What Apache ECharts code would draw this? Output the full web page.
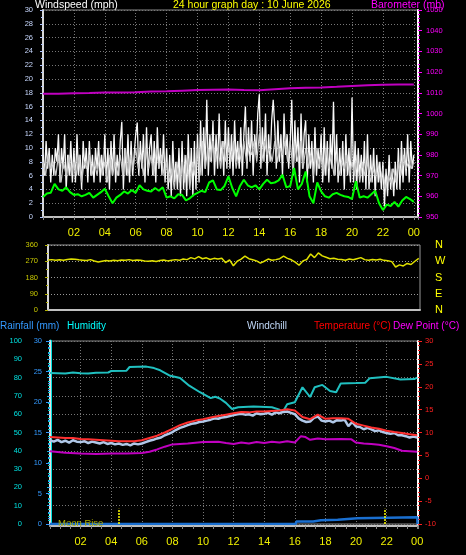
<!DOCTYPE html>
<html><head><meta charset="utf-8">
<script src="https://cdn.jsdelivr.net/npm/echarts@6/dist/echarts.min.js"></script>
<style>html,body{margin:0;padding:0;background:#000;}#c{width:466px;height:555px;}</style>
</head><body><div id="c"></div>
<script>
// ---- data ----
// wind gust (mph), every 6 minutes from 00:00
const gustValues = [
 9,6,11,7,10,5,9,6,10,8,
 12,5,10,7,12,4,9,6,11,5,
 10,5,12,6,9,4,11,7,10,5,
 11,6,9,5,10,7,11,5,9,6,
 12,5,10,4,11,6,12,5,9,6,
 11,13.8,4,10,6,12,5,11,6,9,
 12,13.7,6,11,7,12,5,13,6,10,
 12,6,11,5,13,7,10,6,12,5,
 10,4,9,3,11,5,8,4,10,3,
 11,4,9,3,12,5,10,3,11,4,
 12,5,14,6,13,7,17,6,12,8,
 14,6,12,7,15,8,11,6,14,7,
 13,7,12,6,14,8,11,7,13,6,
 12,16,7,13,8,14,6,12,9,15,
 17.8,7,13,8,15,6,12,8,14,17,
 13,7,14,8,12,6,15,9,12,7,
 11,17,6,14,8,13,5,15,7,12,
 14,5,12,7,11,5,13,6,10,7,
 12,5,13,6,11,5,12,7,16.7,6,
 12,5,10,6,11,4,12,6,10,5,
 17.3,5,11,4,10,6,9,5,11,4,
 12,4,9,5,10,3,9,5,8,4,
 8,1.5,7,3,9,4,7,3,8,4,
 10,4,11,5,10,6,12,5,11,7,
 9];
// wind speed (mph), every 10 minutes
const speedValues = [
 8,6,9,7,8,6, 9,5,8,6,9,6, 8,6,9,5,8,7, 9,6,8,6,9,6,
 8,5,9,6,8,6, 9,6,10,6,9,7, 10,7,9,6,10,7, 9,6,10,7,9,6,
 8,5,7,4,8,5, 8,5,9,4,8,6, 10,6,11,7,10,8, 11,8,10,7,11,8,
 10,8,11,7,10,8, 11,8,10,9,11,8, 12,8,11,9,10,8, 11,8,10,9,11,8,
 11,7,10,8,11,7, 10,7,9,6,10,7, 9,6,10,7,9,6, 9,6,8,7,9,6,
 8,6,9,5,8,6, 8,5,7,6,8,5, 7,4,6,5,7,5, 8,6,9,7,8,7,
 8];
// average wind speed (mph), every 15 minutes
const avgValues = [
 2.9,3.4,3.5,4.8, 4.0,3.8,4.3,3.6, 3.2,3.3,3.0,3.2, 3.5,2.8,3.2,3.6,
 4.1,3.0,2.0,2.8, 3.2,3.7,3.4,3.9, 3.5,4.6,4.0,3.8, 3.7,4.2,3.8,4.3,
 2.8,3.0,2.7,3.3, 3.2,2.4,2.7,3.2, 3.5,3.8,3.6,5.0, 5.3,4.0,3.9,4.5,
 5.9,4.2,3.0,4.5, 5.4,4.6,4.3,4.6, 4.0,4.8,5.4,4.9, 5.0,5.3,6.1,4.3,
 4.5,7.1,4.0,4.8, 6.6,3.0,2.0,5.0, 3.7,3.0,2.8,3.3, 3.5,3.2,3.0,2.9,
 2.6,5.2,2.8,3.0, 2.8,3.3,3.8,2.0, 1.0,1.8,1.6,2.2, 1.5,2.4,2.9,2.6,
 2.2];
// barometer (mb), hourly
const baroValues = [1009.5,1009.6,1009.8,1009.9,1010.1,1010.2,1010.3,1010.6,1010.7,1011.0,1011.3,1011.5,
 1011.6,1011.3,1011.2,1011.7,1012.2,1012.4,1012.6,1012.9,1013.3,1013.6,1013.9,1014.0,1014.0];
// wind direction (deg), every 15 minutes
const dirValues = [
 277,279,275,278, 276,280,283,281, 278,276,274,279, 271,266,270,274,
 272,276,273,277, 275,279,274,277, 275,271,270,273, 269,274,277,272,
 276,279,275,282, 279,290,283,296, 284,289,280,286, 282,287,262,278,
 245,270,282,298, 284,278,272,260, 270,282,276,279, 284,298,286,278,
 265,248,272,280, 310,290,316,300, 292,284,287,281, 280,276,282,278,
 284,290,279,276, 280,277,281,275, 273,268,238,250, 244,258,252,270,
 286];
// humidity (%)
const humTimes  = [0,1,1.5,2,2.5,3,3.8,4.0,5.0,5.2,6.3,6.8,7.2,7.8,8.5,9.1,9.8,10.5,10.8,11.1,11.5,11.9,12.3,13.3,14.5,15.0,15.2,15.5,16.0,16.5,17.0,17.3,17.8,18.3,18.7,19.0,20.0,20.6,20.9,22.0,22.9,23.8,24.0];
const humValues = [82.5,82.3,82.8,82.4,82.2,82.6,82.8,83.6,83.8,85.8,86.0,85.2,84.0,81.2,79.8,75.6,72.0,68.8,69.5,68.6,66.2,62.8,63.8,64.2,63.8,62.5,61.0,65.4,66.5,74.7,69.4,74.7,76.0,72.7,72.0,76.8,77.0,77.2,79.7,80.4,79.0,79.2,80.0];
// temperature (°C), every 30 minutes
const tempValues = [9.0,8.9,8.8,8.8,8.6,8.5,8.4,8.3,8.2,8.1,8.1,8.1,8.3,8.8,9.3,10.0,10.8,11.6,12.2,12.6,12.9,13.3,13.6,13.9,
 14.2,14.5,14.4,14.6,14.6,14.7,14.8,15.1,14.8,13.4,12.9,13.9,13.0,13.1,13.1,13.0,11.9,11.5,11.1,10.8,10.4,10.1,9.9,9.6,9.4];
// windchill (°C), every 15 minutes
const chillValues = [
 8.3,8.0,8.4,7.9, 8.2,7.8,8.3,8.0, 7.9,8.1,7.7,8.0, 7.8,7.6,7.9,7.5,
 7.7,7.4,7.6,7.3, 7.5,7.2,7.6,7.4, 7.6,7.9,8.2,8.4, 8.7,8.9,9.4,9.7,
 10.1,10.6,11.0,11.3, 11.6,11.9,12.0,12.3, 12.4,12.6,12.8,13.1, 13.0,13.3,13.4,13.6,
 13.8,14.0,14.1,13.9, 14.0,13.7,14.2,14.0, 14.1,14.3,13.9,14.4, 14.2,14.5,14.6,14.3,
 14.0,13.1,12.6,12.3, 12.4,13.2,13.5,12.6, 12.4,12.6,12.2,12.7, 12.6,12.8,11.4,12.3,
 11.3,11.2,10.7,11.0, 10.7,10.3,10.5,10.1, 9.9,9.7,9.9,9.4, 9.4,9.2,8.9,9.1,
 8.9];
// dew point (°C)
const dewTimes  = [0,1,2,3,4,5,6,6.5,7,7.5,8,9,10,11,11.5,12,12.5,13,13.5,14,14.5,15,15.5,16,16.4,16.7,17,17.5,18,19,19.7,20,20.5,21,21.5,22,22.5,23,23.5,24];
const dewValues = [5.9,5.6,5.4,5.3,5.4,5.4,5.5,5.8,6.3,6.9,7.4,7.6,7.9,8.0,7.7,7.5,7.8,7.6,7.9,7.7,8.0,7.8,8.1,7.8,9.2,9.0,8.4,8.7,8.5,8.6,8.5,7.8,7.6,7.5,7.3,7.0,6.6,6.0,5.9,5.8];
// rainfall (mm)
const rainTimes  = [0,16.05,16.1,17.2,17.25,17.7,17.75,18.8,18.85,20.1,20.15,24.0,24.02];
const rainValues = [0,0,0.4,0.4,0.6,0.6,0.7,0.7,0.95,0.95,1.1,1.1,0];
// moon events (hour)
const moonLines = [4.48, 21.9];
const dirLabels = {0:'N',90:'E',180:'S',270:'W',360:'N'};

// ---- chart ----
const F = '"Liberation Sans", Arial, sans-serif';
const every = (arr, step) => arr.map((v, i) => [i * step, v]);
const pairs = (t, v) => t.map((x, i) => [x, v[i]]);
const hourFmt = v => { if (v < 0.01 || v > 24.01) return ''; const h = Math.round(v) % 24; return (h < 10 ? '0' : '') + h; };
const plain = v => String(v);
const dotted = c => ({ show: true, lineStyle: { color: c, type: [1, 2], width: 1 } });

const chart = echarts.init(document.getElementById('c'), null, { renderer: 'canvas' });
const smallLbl = (c, m) => ({ color: c, fontSize: 7.5, fontFamily: F, margin: m, formatter: plain });

chart.setOption({
  backgroundColor: '#000',
  animation: false,
  grid: [
    { left: 43, top: 10, width: 375, height: 207, show: true, borderColor: '#888', borderWidth: 1 },
    { left: 48, top: 245, width: 372, height: 65, show: true, borderColor: '#999', borderWidth: 1 },
    { left: 50, top: 341, width: 368, height: 183, show: true, borderColor: '#888', borderWidth: 1 }
  ],
  xAxis: [
    { gridIndex: 0, type: 'value', min: 0, max: 24.27, interval: 2,
      axisLine: { show: true, onZero: false, lineStyle: { color: '#c0c0c0', width: 2 } },
      axisTick: { show: true, length: 3, lineStyle: { color: '#888' } },
      minorTick: { show: true, splitNumber: 3, length: 3, lineStyle: { color: '#888' } },
      axisLabel: { color: '#f0f000', fontSize: 11, fontFamily: F, margin: 10, formatter: hourFmt },
      splitLine: dotted('#777') },
    { gridIndex: 1, type: 'value', min: 0, max: 24.08, interval: 2,
      axisLine: { show: true, onZero: false, lineStyle: { color: '#c0c0c0', width: 2 } },
      axisTick: { show: false }, axisLabel: { show: false }, splitLine: { show: false } },
    { gridIndex: 2, type: 'value', min: 0, max: 24.05, interval: 2, offset: 2,
      axisLine: { show: true, onZero: false, lineStyle: { color: '#c0c0c0', width: 2 } },
      axisTick: { show: true, length: 3, lineStyle: { color: '#888' } },
      minorTick: { show: true, splitNumber: 3, length: 3, lineStyle: { color: '#888' } },
      axisLabel: { color: '#f0f000', fontSize: 11, fontFamily: F, margin: 10, formatter: hourFmt },
      splitLine: dotted('#777') }
  ],
  yAxis: [
    { gridIndex: 0, type: 'value', position: 'left', min: 0, max: 30, interval: 2,
      axisLine: { show: true, lineStyle: { color: '#d8d8d8', width: 2 } },
      axisTick: { show: true, length: 3, lineStyle: { color: '#b0c4ff' } },
      minorTick: { show: true, splitNumber: 2, length: 2, lineStyle: { color: '#b0c4ff' } },
      axisLabel: smallLbl('#c8d8ff', 10), splitLine: dotted('#777') },
    { gridIndex: 0, type: 'value', position: 'right', min: 950, max: 1050, interval: 10,
      axisLine: { show: true, lineStyle: { color: '#ffffff', width: 2 } },
      axisTick: { show: true, length: 4, lineStyle: { color: '#ff00ff' } },
      minorTick: { show: true, splitNumber: 5, length: 2, lineStyle: { color: '#ff00ff' } },
      axisLabel: smallLbl('#ff00ff', 8), splitLine: { show: false } },
    { gridIndex: 1, type: 'value', position: 'left', min: 0, max: 360, interval: 90,
      axisLine: { show: true, lineStyle: { color: '#d8d8d8', width: 2 } },
      axisTick: { show: true, length: 3, lineStyle: { color: '#b0b000' } },
      minorTick: { show: true, splitNumber: 2, length: 2, lineStyle: { color: '#b0b000' } },
      axisLabel: smallLbl('#c8c800', 10), splitLine: dotted('#999') },
    { gridIndex: 1, type: 'value', position: 'right', min: 0, max: 360, interval: 90,
      axisLine: { show: false }, axisTick: { show: false }, splitLine: { show: false },
      axisLabel: { color: '#ffff00', fontSize: 11, fontFamily: F, margin: 15, formatter: v => dirLabels[v] || '' } },
    { gridIndex: 2, type: 'value', position: 'left', offset: 20, min: 0, max: 100, interval: 10,
      axisLine: { show: true, lineStyle: { color: '#00e0e0', width: 3 } },
      axisTick: { show: true, length: 3, lineStyle: { color: '#00c8c8' } },
      minorTick: { show: true, splitNumber: 5, length: 2, lineStyle: { color: '#00c8c8' } },
      axisLabel: smallLbl('#00e0e0', 8), splitLine: dotted('#777') },
    { gridIndex: 2, type: 'value', position: 'left', min: 0, max: 30, interval: 5,
      axisLine: { show: true, lineStyle: { color: '#e0e0e0', width: 2 } },
      axisTick: { show: true, length: 4, lineStyle: { color: '#3399ff' } },
      minorTick: { show: true, splitNumber: 5, length: 2, lineStyle: { color: '#3399ff' } },
      axisLabel: smallLbl('#3399ff', 8), splitLine: { show: false } },
    { gridIndex: 2, type: 'value', position: 'right', min: -10, max: 30, interval: 5,
      axisLine: { show: true, lineStyle: { color: '#ffffff', width: 2 } },
      axisTick: { show: true, length: 4, lineStyle: { color: '#ff2020' } },
      minorTick: { show: true, splitNumber: 5, length: 2, lineStyle: { color: '#ff2020' } },
      axisLabel: smallLbl('#ff2020', 7), splitLine: { show: false } }
  ],
  series: [
    { type: 'line', xAxisIndex: 0, yAxisIndex: 0, data: every(gustValues, 0.1), symbol: 'none',
      lineStyle: { color: '#f8f8f8', width: 1.3 } },
    { type: 'line', xAxisIndex: 0, yAxisIndex: 0, data: every(speedValues, 1 / 6), symbol: 'none',
      lineStyle: { color: '#c8c8c8', width: 1.2 } },
    { type: 'line', xAxisIndex: 0, yAxisIndex: 0, data: every(avgValues, 0.25), symbol: 'none',
      lineStyle: { color: '#00ff00', width: 2 } },
    { type: 'line', xAxisIndex: 0, yAxisIndex: 1, data: every(baroValues, 1), symbol: 'none',
      lineStyle: { color: '#c000c0', width: 2 } },
    { type: 'line', xAxisIndex: 1, yAxisIndex: 2, data: every(dirValues, 0.25), symbol: 'none',
      lineStyle: { color: '#e0e000', width: 1.5 } },
    { type: 'line', xAxisIndex: 2, yAxisIndex: 4, data: pairs(humTimes, humValues), symbol: 'none',
      lineStyle: { color: '#20c0c0', width: 2 } },
    { type: 'line', xAxisIndex: 2, yAxisIndex: 6, data: every(chillValues, 0.25), symbol: 'none',
      lineStyle: { color: '#b0c8e8', width: 2.5 } },
    { type: 'line', xAxisIndex: 2, yAxisIndex: 6, data: every(tempValues, 0.5), symbol: 'none',
      lineStyle: { color: '#ff3030', width: 2 } },
    { type: 'line', xAxisIndex: 2, yAxisIndex: 6, data: pairs(dewTimes, dewValues), symbol: 'none',
      lineStyle: { color: '#c000c0', width: 2 } },
    { type: 'line', xAxisIndex: 2, yAxisIndex: 5, data: pairs(rainTimes, rainValues), symbol: 'none',
      lineStyle: { color: '#1a6fd0', width: 2.5 },
      markLine: { silent: true, symbol: 'none', label: { show: false },
        lineStyle: { color: '#ffff00', type: [2, 1], width: 1.5, opacity: 1 },
        emphasis: { disabled: true },
        data: moonLines.map(h => [{ coord: [h, 0] }, { coord: [h, 2.5] }]) } }
  ],
  graphic: [
    { type: 'text', x: 35, y: 5.5, style: { text: 'Windspeed (mph)', fill: '#ffffff', font: '10.5px ' + F, verticalAlign: 'middle' } },
    { type: 'text', x: 173, y: 5.5, style: { text: '24 hour graph day : 10 June 2026', fill: '#ffff00', font: '10.5px ' + F, verticalAlign: 'middle' } },
    { type: 'text', x: 371, y: 5.5, style: { text: 'Barometer (mb)', fill: '#ff00ff', font: '10.5px ' + F, verticalAlign: 'middle' } },
    { type: 'text', x: 0, y: 326, style: { text: 'Rainfall (mm)', fill: '#3399ff', font: '10px ' + F, verticalAlign: 'middle' } },
    { type: 'text', x: 67, y: 326, style: { text: 'Humidity', fill: '#00ffff', font: '10px ' + F, verticalAlign: 'middle' } },
    { type: 'text', x: 247, y: 326, style: { text: 'Windchill', fill: '#c0d8f8', font: '10px ' + F, verticalAlign: 'middle' } },
    { type: 'text', x: 314, y: 326, style: { text: 'Temperature (°C)', fill: '#ff0000', font: '10px ' + F, verticalAlign: 'middle' } },
    { type: 'text', x: 393, y: 326, style: { text: 'Dew Point (°C)', fill: '#ff00ff', font: '10px ' + F, verticalAlign: 'middle' } },
    { type: 'text', x: 58, y: 523, z: 100, style: { text: 'Moon Rise', fill: '#b0b000', font: '9.5px ' + F, verticalAlign: 'middle' } }
  ]
});
</script></body></html>
